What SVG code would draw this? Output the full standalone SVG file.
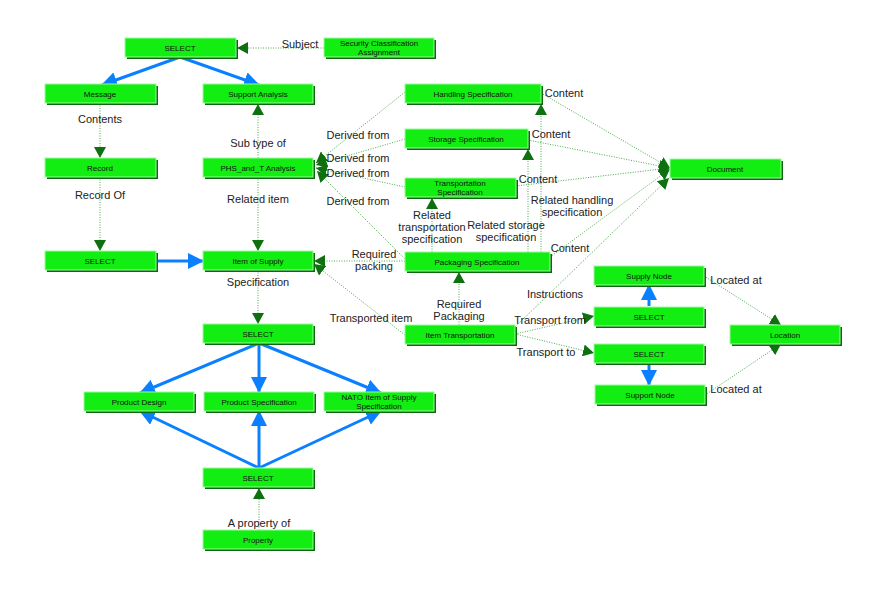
<svg xmlns="http://www.w3.org/2000/svg" width="891" height="591" viewBox="0 0 891 591">
<style>
.sh{fill:#0b6a0b}
.bx{fill:#12ee12;stroke:#9cfa9c;stroke-width:1}
.nt{font-family:"Liberation Sans",Arial,sans-serif;font-size:8px;fill:#111;text-anchor:middle}
.el{font-family:"Liberation Sans",Arial,sans-serif;font-size:11px;fill:#222;text-anchor:middle}
.g{stroke:#4aa84a;stroke-width:1;stroke-dasharray:1 1.5;fill:none;marker-end:url(#ga)}
.b{stroke:#0a80ff;stroke-width:3;fill:none;marker-end:url(#ba)}
</style>
<defs>
<marker id="ga" markerUnits="userSpaceOnUse" markerWidth="12" markerHeight="12" refX="11" refY="6" orient="auto" viewBox="0 0 12 12">
<path d="M0,0 L11,6 L0,12 Z" fill="#0f700f"/>
</marker>
<marker id="ba" markerUnits="userSpaceOnUse" markerWidth="16" markerHeight="16" refX="15" refY="8" orient="auto" viewBox="0 0 16 16">
<path d="M0,0 L16,8 L0,16 Z" fill="#0a80ff"/>
</marker>
</defs>
<rect width="891" height="591" fill="#fff"/>
<g id="connectors">
<path class="b" d="M180,57 L102,85"/>
<path class="b" d="M180,57 L259,85"/>
<path class="b" d="M156,261 L203,261"/>
<path class="b" d="M259,343 L140,393"/>
<path class="b" d="M259,343 L259,392"/>
<path class="b" d="M259,343 L381,393"/>
<path class="b" d="M259,468 L140,411"/>
<path class="b" d="M259,468 L259,411"/>
<path class="b" d="M259,468 L381,411"/>
<path class="b" d="M649,306 L649,285"/>
<path class="b" d="M649,362 L649,385"/>
<path class="g" d="M324,48 L237,48"/>
<path class="g" d="M100,103 L100,158"/>
<path class="g" d="M100,177 L100,251"/>
<path class="g" d="M258,158 L258,104"/>
<path class="g" d="M258,177 L258,251"/>
<path class="g" d="M258,270 L258,324"/>
<path class="g" d="M259,530 L259,488"/>
<path class="g" d="M405,92 L316,163"/>
<path class="g" d="M405,139 L316,165"/>
<path class="g" d="M405,187 L316,168"/>
<path class="g" d="M405,259 L317,171"/>
<path class="g" d="M541,93 L670,168"/>
<path class="g" d="M528,140 L670,168"/>
<path class="g" d="M516,186 L670,168"/>
<path class="g" d="M550,257 L670,169"/>
<path class="g" d="M515,327 L669,178"/>
<path class="g" d="M541,252 L541,104"/>
<path class="g" d="M528,252 L528,149"/>
<path class="g" d="M432,252 L432,198"/>
<path class="g" d="M405,261 L314,261"/>
<path class="g" d="M405,335 L314,264"/>
<path class="g" d="M459,325 L459,272"/>
<path class="g" d="M515,334 L594,316"/>
<path class="g" d="M515,334 L594,353"/>
<path class="g" d="M704,276 L781,325"/>
<path class="g" d="M705,395 L781,344"/>
<text class="el" x="300" y="48">Subject</text>
<text class="el" x="100" y="123">Contents</text>
<text class="el" x="100" y="199">Record Of</text>
<text class="el" x="258" y="147">Sub type of</text>
<text class="el" x="258" y="203">Related item</text>
<text class="el" x="258" y="286">Specification</text>
<text class="el" x="259" y="527">A property of</text>
<text class="el" x="358" y="139">Derived from</text>
<text class="el" x="358" y="162">Derived from</text>
<text class="el" x="358" y="177">Derived from</text>
<text class="el" x="358" y="205">Derived from</text>
<text class="el" x="564" y="97">Content</text>
<text class="el" x="551" y="138">Content</text>
<text class="el" x="538" y="183">Content</text>
<text class="el" x="570" y="252">Content</text>
<text class="el" x="572" y="204">Related handling</text>
<text class="el" x="572" y="216">specification</text>
<text class="el" x="506" y="229">Related storage</text>
<text class="el" x="506" y="241">specification</text>
<text class="el" x="432" y="219">Related</text>
<text class="el" x="432" y="231">transportation</text>
<text class="el" x="432" y="243">specification</text>
<text class="el" x="374" y="258">Required</text>
<text class="el" x="374" y="270">packing</text>
<text class="el" x="371" y="322">Transported item</text>
<text class="el" x="459" y="308">Required</text>
<text class="el" x="459" y="320">Packaging</text>
<text class="el" x="555" y="298">Instructions</text>
<text class="el" x="550" y="324">Transport from</text>
<text class="el" x="546" y="356">Transport to</text>
<text class="el" x="736" y="284">Located at</text>
<text class="el" x="736" y="393">Located at</text>
</g>
<g id="select-top"><rect class="sh" x="127" y="40" width="111" height="19"/><rect class="bx" x="125" y="38" width="111" height="19"/><text class="nt" x="180" y="51">SELECT</text></g>
<g id="security"><rect class="sh" x="326" y="40" width="110" height="19"/><rect class="bx" x="324" y="38" width="110" height="19"/><text class="nt" x="379" y="46">Security Classification</text><text class="nt" x="379" y="55">Assignment</text></g>
<g id="message"><rect class="sh" x="47" y="86" width="111" height="19"/><rect class="bx" x="45" y="84" width="111" height="19"/><text class="nt" x="100" y="97">Message</text></g>
<g id="support-analysis"><rect class="sh" x="205" y="86" width="110" height="19"/><rect class="bx" x="203" y="84" width="110" height="19"/><text class="nt" x="258" y="97">Support Analysis</text></g>
<g id="record"><rect class="sh" x="47" y="160" width="111" height="19"/><rect class="bx" x="45" y="158" width="111" height="19"/><text class="nt" x="100" y="171">Record</text></g>
<g id="phs"><rect class="sh" x="205" y="160" width="110" height="19"/><rect class="bx" x="203" y="158" width="110" height="19"/><text class="nt" x="258" y="171">PHS_and_T Analysis</text></g>
<g id="select-left"><rect class="sh" x="47" y="253" width="111" height="19"/><rect class="bx" x="45" y="251" width="111" height="19"/><text class="nt" x="100" y="264">SELECT</text></g>
<g id="item-of-supply"><rect class="sh" x="205" y="253" width="110" height="19"/><rect class="bx" x="203" y="251" width="110" height="19"/><text class="nt" x="258" y="264">Item of Supply</text></g>
<g id="select-mid"><rect class="sh" x="205" y="326" width="110" height="19"/><rect class="bx" x="203" y="324" width="110" height="19"/><text class="nt" x="258" y="337">SELECT</text></g>
<g id="product-design"><rect class="sh" x="86" y="394" width="110" height="19"/><rect class="bx" x="84" y="392" width="110" height="19"/><text class="nt" x="139" y="405">Product Design</text></g>
<g id="product-spec"><rect class="sh" x="206" y="394" width="110" height="19"/><rect class="bx" x="204" y="392" width="110" height="19"/><text class="nt" x="259" y="405">Product Specification</text></g>
<g id="nato"><rect class="sh" x="326" y="394" width="110" height="19"/><rect class="bx" x="324" y="392" width="110" height="19"/><text class="nt" x="379" y="400">NATO Item of Supply</text><text class="nt" x="379" y="409">Specification</text></g>
<g id="select-bottom"><rect class="sh" x="205" y="470" width="110" height="19"/><rect class="bx" x="203" y="468" width="110" height="19"/><text class="nt" x="258" y="481">SELECT</text></g>
<g id="property"><rect class="sh" x="205" y="532" width="110" height="19"/><rect class="bx" x="203" y="530" width="110" height="19"/><text class="nt" x="258" y="543">Property</text></g>
<g id="handling"><rect class="sh" x="407" y="86" width="136" height="19"/><rect class="bx" x="405" y="84" width="136" height="19"/><text class="nt" x="473" y="97">Handling Specification</text></g>
<g id="storage"><rect class="sh" x="407" y="131" width="123" height="19"/><rect class="bx" x="405" y="129" width="123" height="19"/><text class="nt" x="466" y="142">Storage Specification</text></g>
<g id="transportation"><rect class="sh" x="407" y="180" width="111" height="19"/><rect class="bx" x="405" y="178" width="111" height="19"/><text class="nt" x="460" y="186">Transportation</text><text class="nt" x="460" y="195">Specification</text></g>
<g id="document"><rect class="sh" x="672" y="161" width="111" height="19"/><rect class="bx" x="670" y="159" width="111" height="19"/><text class="nt" x="725" y="172">Document</text></g>
<g id="packaging"><rect class="sh" x="407" y="254" width="145" height="19"/><rect class="bx" x="405" y="252" width="145" height="19"/><text class="nt" x="477" y="265">Packaging Specification</text></g>
<g id="item-transportation"><rect class="sh" x="407" y="327" width="110" height="19"/><rect class="bx" x="405" y="325" width="110" height="19"/><text class="nt" x="460" y="338">Item Transportation</text></g>
<g id="supply-node"><rect class="sh" x="596" y="268" width="110" height="19"/><rect class="bx" x="594" y="266" width="110" height="19"/><text class="nt" x="649" y="279">Supply Node</text></g>
<g id="select-supply"><rect class="sh" x="596" y="309" width="110" height="19"/><rect class="bx" x="594" y="307" width="110" height="19"/><text class="nt" x="649" y="320">SELECT</text></g>
<g id="select-support"><rect class="sh" x="596" y="346" width="110" height="19"/><rect class="bx" x="594" y="344" width="110" height="19"/><text class="nt" x="649" y="357">SELECT</text></g>
<g id="support-node"><rect class="sh" x="597" y="387" width="110" height="19"/><rect class="bx" x="595" y="385" width="110" height="19"/><text class="nt" x="650" y="398">Support Node</text></g>
<g id="location"><rect class="sh" x="732" y="327" width="110" height="19"/><rect class="bx" x="730" y="325" width="110" height="19"/><text class="nt" x="785" y="338">Location</text></g>
</svg>
